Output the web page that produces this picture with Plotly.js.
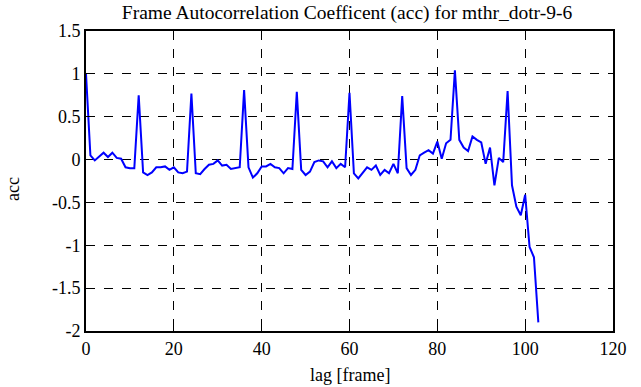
<!DOCTYPE html>
<html><head><meta charset="utf-8">
<script src="https://cdn.plot.ly/plotly-3.0.1.min.js"></script>
<style>html,body{margin:0;padding:0;background:#fff}#chart{width:641px;height:387px}</style>
</head><body><div id="chart"></div>
<script>
const lags = Array.from({length: 104}, (_, i) => i);
const acc = [
 1.00, 0.05, -0.01, 0.03, 0.08, 0.03, 0.08, 0.02, 0.01, -0.09,
 -0.10, -0.10, 0.75, -0.15, -0.18, -0.15, -0.09, -0.09, -0.08, -0.12,
 -0.09, -0.15, -0.16, -0.14, 0.77, -0.16, -0.17, -0.11, -0.06, -0.05,
 -0.01, -0.07, -0.06, -0.11, -0.10, -0.09, 0.81, -0.09, -0.21, -0.16,
 -0.08, -0.08, -0.05, -0.09, -0.10, -0.16, -0.10, -0.11, 0.79, -0.12,
 -0.18, -0.14, -0.03, -0.01, -0.02, -0.09, -0.02, -0.10, -0.05, -0.09,
 0.78, -0.16, -0.22, -0.16, -0.09, -0.12, -0.07, -0.18, -0.12, -0.16,
 -0.05, -0.16, 0.74, -0.10, -0.18, -0.12, 0.05, 0.08, 0.11, 0.07,
 0.21, 0.01, 0.19, 0.23, 1.04, 0.23, 0.14, 0.10, 0.27, 0.23,
 0.20, -0.05, 0.14, -0.30, 0.02, -0.03, 0.80, -0.30, -0.55, -0.65,
 -0.41, -1.02, -1.14, -1.90
];
const xTicks = [0, 20, 40, 60, 80, 100, 120];
const yTicks = [-2, -1.5, -1, -0.5, 0, 0.5, 1, 1.5];
const fam = 'Liberation Serif, serif';
const font = {family: fam, size: 18, color: '#000'};
const axisCommon = {
  showline: true, linecolor: '#000', linewidth: 2, mirror: true,
  showgrid: true, gridcolor: '#000', gridwidth: 1, griddash: 'dash',
  zeroline: false, ticks: 'inside', ticklen: 5, tickcolor: '#000', tickwidth: 1,
  tickfont: font
};
Plotly.newPlot('chart', [{
  x: lags, y: acc, type: 'scatter', mode: 'lines',
  line: {color: '#0000ff', width: 2}
}], {
  width: 641, height: 387,
  margin: {l: 86, r: 28, t: 31, b: 56},
  paper_bgcolor: '#fff', plot_bgcolor: '#fff',
  showlegend: false,
  font: font,
  title: {text: 'Frame Autocorrelation Coefficent (acc) for mthr_dotr-9-6', font: {family: fam, size: 19.5, color: '#000'},
    x: 347 / 641, xanchor: 'center', y: 1 - 12 / 387, yanchor: 'middle'},
  xaxis: Object.assign({}, axisCommon, {range: [0, 120], tickvals: xTicks, ticktext: xTicks.map(String)}),
  yaxis: Object.assign({}, axisCommon, {range: [-2, 1.5], tickvals: yTicks, ticktext: yTicks.map(String)}),
  annotations: [
    {text: 'lag [frame]', xref: 'paper', yref: 'paper', x: (350 - 86) / 527, y: -(375 - 331) / 300,
     xanchor: 'center', yanchor: 'middle', showarrow: false, font: font},
    {text: 'acc', xref: 'paper', yref: 'paper', x: -(86 - 13) / 527, y: (331 - 189) / 300,
     xanchor: 'center', yanchor: 'middle', textangle: -90, showarrow: false, font: font}
  ]
}, {displayModeBar: false, staticPlot: true});
</script></body></html>
